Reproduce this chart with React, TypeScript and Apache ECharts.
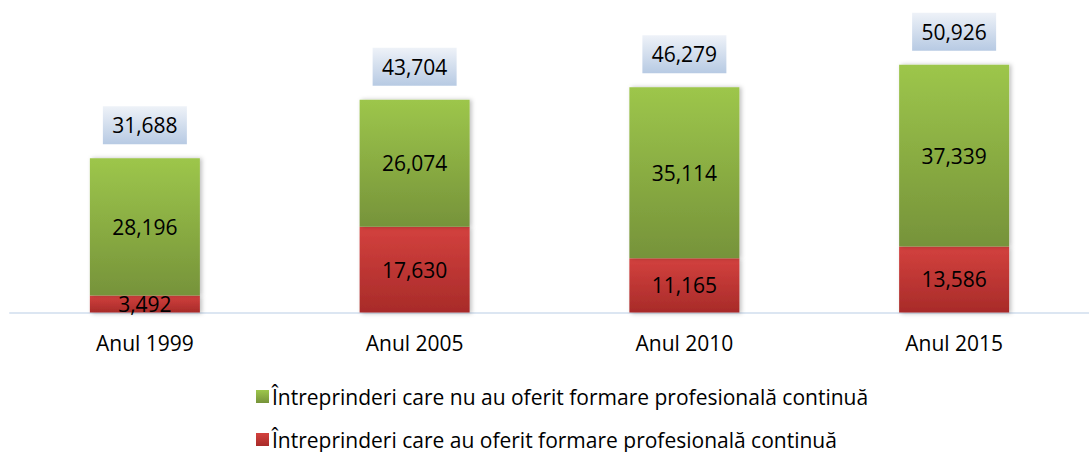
import React, { useEffect, useRef } from "react";
import * as echarts from "echarts";

const categories = ["Anul 1999", "Anul 2005", "Anul 2010", "Anul 2015"];
const withTraining = [3492, 17630, 11165, 13586];
const withoutTraining = [28196, 26074, 35114, 37339];
const totals = [31688, 43704, 46279, 50926];
const nameWithout = "Întreprinderi care nu au oferit formare profesională continuă";
const nameWith = "Întreprinderi care au oferit formare profesională continuă";

const FONT = "'Open Sans', sans-serif";
const FS = 21;
const fmt = (v: number) => v.toLocaleString("en-US");

export default function App() {
  const ref = useRef<HTMLDivElement>(null);
  useEffect(() => {
    if (!ref.current) return;
    const chart = echarts.init(ref.current, undefined, { renderer: "svg" });
    const green = new echarts.graphic.LinearGradient(0, 0, 0, 1, [
      { offset: 0, color: "#9dc64b" },
      { offset: 1, color: "#76933a" },
    ]);
    const red = new echarts.graphic.LinearGradient(0, 0, 0, 1, [
      { offset: 0, color: "#d3413e" },
      { offset: 1, color: "#a82b29" },
    ]);
    const legendBase = {
      orient: "horizontal",
      left: 251,
      itemWidth: 13,
      itemHeight: 13,
      itemGap: 10,
      icon: "rect",
      textStyle: { fontFamily: FONT, fontSize: FS, color: "#000", padding: [0, 0, 0, -2] },
    };
    const labelStyle = {
      show: true,
      position: "inside",
      formatter: (p: any) => fmt(p.value),
      fontFamily: FONT,
      fontSize: FS,
      color: "#000",
    };
    chart.setOption({
      animation: false,
      grid: { left: 10, width: 1093, top: 20.5, bottom: 139.5, containLabel: false },
      legend: [
        { ...legendBase, data: [nameWithout], top: 381 },
        { ...legendBase, data: [nameWith], top: 424 },
      ],
      xAxis: {
        type: "category",
        data: categories,
        axisLine: { show: true, lineStyle: { color: "#dce6f2", width: 2 } },
        axisTick: { show: false },
        axisLabel: { fontFamily: FONT, fontSize: FS, color: "#000", margin: 20 },
      },
      yAxis: {
        type: "value",
        min: 0,
        max: 60000,
        show: false,
        splitLine: { show: false },
      },
      series: [
        {
          name: nameWith,
          type: "bar",
          stack: "t",
          barWidth: 110,
          data: withTraining,
          itemStyle: {
            color: red,
            shadowBlur: 4,
            shadowOffsetX: 2,
            shadowOffsetY: 1,
            shadowColor: "rgba(0,0,0,0.25)",
          },
          label: labelStyle,
        },
        {
          name: nameWithout,
          type: "bar",
          stack: "t",
          barWidth: 110,
          data: withoutTraining,
          itemStyle: {
            color: green,
            shadowBlur: 4,
            shadowOffsetX: 2,
            shadowOffsetY: 0,
            shadowColor: "rgba(0,0,0,0.25)",
          },
          label: labelStyle,
        },
        {
          name: "Total",
          type: "custom",
          data: totals.map((v, i) => [i, v]),
          z: 10,
          renderItem: (params: any, api: any) => {
            const p = api.coord([api.value(0), api.value(1)]);
            const w = 84;
            const h = 38;
            const x = p[0] - w / 2;
            const y = p[1] - 14 - h;
            return {
              type: "group",
              children: [
                {
                  type: "rect",
                  shape: { x, y, width: w, height: h },
                  style: {
                    fill: new echarts.graphic.LinearGradient(0, 0, 0, 1, [
                      { offset: 0, color: "#eef2f8" },
                      { offset: 1, color: "#b7cae3" },
                    ]),
                  },
                },
                {
                  type: "text",
                  style: {
                    x: p[0],
                    y: y + h / 2,
                    text: fmt(totals[params.dataIndex]),
                    align: "center",
                    verticalAlign: "middle",
                    fontFamily: FONT,
                    fontSize: FS,
                    fill: "#000",
                  },
                },
              ],
            };
          },
        },
      ],
    });
    return () => chart.dispose();
  }, []);
  return (
    <div
      ref={ref}
      style={{ position: "fixed", left: 0, top: 0, width: 1089, height: 452, background: "#fff" }}
    />
  );
}
